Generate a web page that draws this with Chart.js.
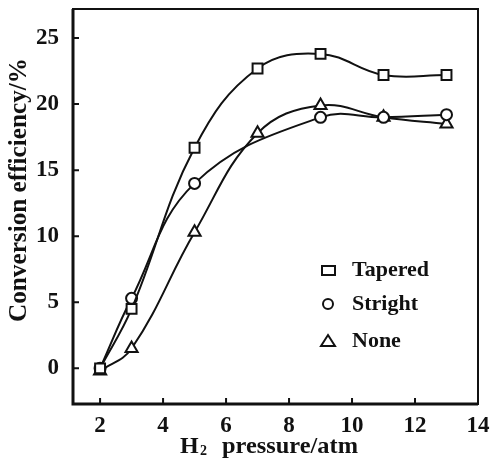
<!DOCTYPE html>
<html>
<head>
<meta charset="utf-8">
<script src="https://cdn.jsdelivr.net/npm/chart.js@4.4.0/dist/chart.umd.min.js"></script>
<style>
  html, body { margin: 0; padding: 0; background: #fff; }
  #wrap { width: 493px; height: 461px; position: relative; }
</style>
</head>
<body>
<div id="wrap"><canvas id="c"></canvas></div>
<script>
// H2 pressure (atm) / conversion efficiency (%)
const pressTapered = [2, 3, 5, 7, 9, 11, 13];
const effTapered = [0, 4.5, 16.7, 22.7, 23.8, 22.2, 22.2];
const pressStright = [2, 3, 5, 9, 11, 13];
const effStright = [0, 5.3, 14.0, 19.0, 19.0, 19.2];
const pressNone = [2, 3, 5, 7, 9, 11, 13];
const effNone = [-0.2, 1.5, 10.3, 17.8, 19.9, 19.0, 18.5];
const xTicks = [2, 4, 6, 8, 10, 12, 14];
const yTicks = [0, 5, 10, 15, 20, 25];
const seriesNames = ['Tapered', 'Stright', 'None'];

const FONT = '"Liberation Serif", "DejaVu Serif", serif';

const toPts = (xs, ys) => xs.map((x, i) => ({ x: x, y: ys[i] }));

const mkSet = (label, xs, ys, style, r) => ({
  label: label,
  data: toPts(xs, ys),
  borderColor: '#111',
  borderWidth: 2,
  backgroundColor: '#fff',
  pointStyle: style,
  pointRadius: r,
  pointBorderWidth: 2,
  pointBackgroundColor: '#fff',
  pointBorderColor: '#111',
  tension: 0.4,
  fill: false
});

// box, inward ticks, titles, legend
const decor = {
  id: 'decor',
  afterDraw(chart) {
    const ctx = chart.ctx;
    const a = chart.chartArea;
    const xs = chart.scales.x, ys = chart.scales.y;
    ctx.save();
    ctx.strokeStyle = '#111';
    ctx.lineWidth = 2;
    ctx.strokeRect(a.left, a.top, a.right - a.left, a.bottom - a.top);
    ctx.lineWidth = 3;
    ctx.beginPath();
    ctx.moveTo(a.left, a.top); ctx.lineTo(a.left, a.bottom); ctx.lineTo(a.right, a.bottom);
    ctx.stroke();
    ctx.lineWidth = 2;
    ctx.beginPath();
    xTicks.forEach(v => {
      const px = xs.getPixelForValue(v);
      ctx.moveTo(px, a.bottom); ctx.lineTo(px, a.bottom - 6);
    });
    yTicks.forEach(v => {
      const py = ys.getPixelForValue(v);
      ctx.moveTo(a.left, py); ctx.lineTo(a.left + 6, py);
    });
    ctx.stroke();

    // y title, squeezed to the length it has in the original
    ctx.fillStyle = '#111';
    ctx.save();
    ctx.translate(26, 190);
    ctx.rotate(-Math.PI / 2);
    ctx.font = 'bold 25px ' + FONT;
    const yt = 'Conversion efficiency/%';
    const w = ctx.measureText(yt).width;
    ctx.scale(264 / w, 1);
    ctx.textAlign = 'center';
    ctx.textBaseline = 'alphabetic';
    ctx.fillText(yt, 0, 0);
    ctx.restore();

    // x title with subscript
    ctx.textBaseline = 'alphabetic';
    ctx.textAlign = 'left';
    const base = 453;
    ctx.font = 'bold 24px ' + FONT;
    ctx.fillText('H', 180, base);
    ctx.font = 'bold 14px ' + FONT;
    ctx.fillText('2', 200, base + 2);
    ctx.save();
    ctx.translate(222, base);
    ctx.font = 'bold 23px ' + FONT;
    const xt = 'pressure/atm';
    ctx.scale(136 / ctx.measureText(xt).width, 1);
    ctx.fillText(xt, 0, 0);
    ctx.restore();

    // legend
    const rows = [270, 304, 341];
    const bases = [276, 310, 347];
    ctx.font = 'bold 22px ' + FONT;
    chart.data.datasets.forEach((ds, i) => {
      const cy = rows[i];
      ctx.lineWidth = 2;
      ctx.strokeStyle = '#111';
      ctx.fillStyle = '#fff';
      ctx.beginPath();
      if (ds.pointStyle === 'rect') {
        ctx.rect(322, cy - 4, 13, 9);
      } else if (ds.pointStyle === 'circle') {
        ctx.arc(328, cy, 5, 0, Math.PI * 2);
      } else {
        ctx.moveTo(328, cy - 6); ctx.lineTo(335, cy + 5); ctx.lineTo(321, cy + 5); ctx.closePath();
      }
      ctx.fill(); ctx.stroke();
      ctx.fillStyle = '#111';
      ctx.fillText(seriesNames[i], 352, bases[i]);
    });
    ctx.restore();
  }
};

new Chart(document.getElementById('c'), {
  type: 'line',
  data: {
    datasets: [
      mkSet(seriesNames[0], pressTapered, effTapered, 'rect', 7),
      mkSet(seriesNames[1], pressStright, effStright, 'circle', 5.5),
      mkSet(seriesNames[2], pressNone, effNone, 'triangle', 7)
    ]
  },
  options: {
    responsive: true,
    maintainAspectRatio: false,
    animation: false,
    devicePixelRatio: 1,
    layout: { padding: { left: 0, top: 8, right: 15, bottom: 0 } },
    plugins: { legend: { display: false }, tooltip: { enabled: false } },
    scales: {
      x: {
        type: 'linear',
        min: 1.14,
        max: 14,
        afterBuildTicks: s => { s.ticks = xTicks.map(v => ({ value: v })); },
        afterFit: s => { s.height = 57; s.paddingLeft = 0; s.paddingRight = 0; },
        grid: { display: false },
        border: { display: false },
        ticks: { color: '#111', font: { family: FONT, size: 23, weight: 'bold' }, padding: 0, maxRotation: 0 }
      },
      y: {
        type: 'linear',
        min: -2.7,
        max: 27.2,
        afterBuildTicks: s => { s.ticks = yTicks.map(v => ({ value: v })); },
        afterFit: s => { s.width = 73; s.paddingTop = 0; s.paddingBottom = 0; },
        grid: { display: false },
        border: { display: false },
        ticks: { color: '#111', font: { family: FONT, size: 23, weight: 'bold' }, padding: 6 }
      }
    }
  },
  plugins: [decor]
});
</script>
</body>
</html>
